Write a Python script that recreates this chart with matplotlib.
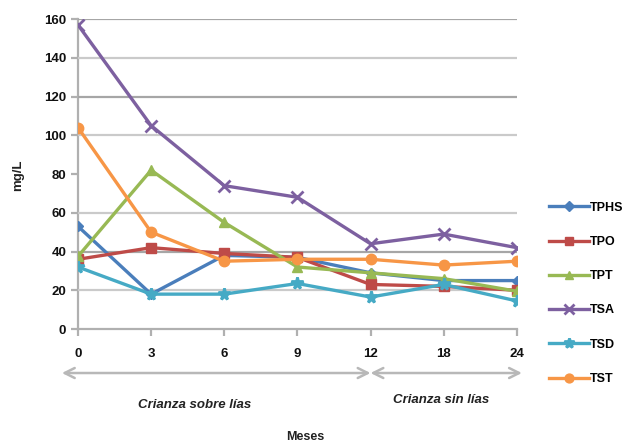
import matplotlib
matplotlib.use('Agg')
from matplotlib import pyplot as plt

months = ['0', '3', '6', '9', '12', '18', '24']

tphs = [53, 18, 38, 37, 29, 25, 25]
tpo = [36, 42, 39, 37, 23, 22, 20]
tpt = [37.5, 82, 55, 32, 29, 26, 19.5]
tsa = [157, 105, 74, 68, 44, 49, 42]
tsd = [32, 18, 18, 23.5, 16.5, 23, 14.5]
tst = [104, 50, 35, 36, 36, 33, 35]

series_names = ['TPHS', 'TPO', 'TPT', 'TSA', 'TSD', 'TST']
y_ticks = [0, 20, 40, 60, 80, 100, 120, 140, 160]
grid_levels = [20, 40, 60, 100, 120, 140, 160]


def main():
  plt.rcParams['font.family'] = ['Liberation Sans', 'DejaVu Sans']
  fig = plt.figure(figsize=(6.31, 4.44), dpi=100)
  ax = fig.add_axes([0.1236, 0.259, 0.6954, 0.698])

  styles = [
      ('#4a7ebb', 'D', 5.5),
      ('#be4b48', 's', 6.5),
      ('#98b954', '^', 6.5),
      ('#7d60a0', 'x', 8),
      ('#46aac5', '*', 8.5),
      ('#f79646', 'o', 7.5),
  ]
  data = [tphs, tpo, tpt, tsa, tsd, tst]
  xs = list(range(len(months)))
  for name, vals, (col, mk, ms) in zip(series_names, data, styles):
    ax.plot(xs, vals, color=col, lw=2.4, marker=mk, ms=ms,
            mew=2.0 if mk in 'x*' else 1, mec=col, mfc=col,
            label=name, zorder=3)

  # horizontal grid
  for lvl in grid_levels:
    c = '#a6a6a6' if lvl in (40, 120, 160) else '#cacaca'
    ax.axhline(lvl, color=c, lw=1.6, zorder=1)

  ax.set_xlim(0, 6)
  ax.set_ylim(0, 160)
  ax.set_xticks(xs)
  ax.set_xticklabels(months)
  ax.set_yticks(y_ticks)
  for s in ['top', 'right']:
    ax.spines[s].set_visible(False)
  for s in ['left', 'bottom']:
    ax.spines[s].set_color('#b0b0b0')
    ax.spines[s].set_linewidth(1.6)
  ax.spines['left'].set_zorder(0)
  ax.tick_params(axis='both', colors='#b0b0b0', width=1.6, length=5,
                 labelcolor='#111111', labelsize=9.5)
  ax.tick_params(axis='x', pad=9)
  for lab in ax.get_xticklabels() + ax.get_yticklabels():
    lab.set_fontweight('bold')

  # periods of ageing under the axis
  arr = dict(arrowstyle='<->', color='#b8b8b8', lw=1.8,
             mutation_scale=18, shrinkA=0, shrinkB=0)
  ax.annotate('', xy=(-0.22, -0.142), xytext=(4.0, -0.142),
              xycoords=('data', 'axes fraction'),
              textcoords=('data', 'axes fraction'), arrowprops=arr,
              annotation_clip=False)
  ax.annotate('', xy=(4.0, -0.142), xytext=(6.07, -0.142),
              xycoords=('data', 'axes fraction'),
              textcoords=('data', 'axes fraction'), arrowprops=arr,
              annotation_clip=False)
  ax.text(1.6, -0.245, 'Crianza sobre lías', transform=ax.get_xaxis_transform(),
          ha='center', va='center', fontsize=9.5, style='italic',
          fontweight='bold', color='#222222')
  ax.text(4.97, -0.229, 'Crianza sin lías', transform=ax.get_xaxis_transform(),
          ha='center', va='center', fontsize=9.5, style='italic',
          fontweight='bold', color='#222222')

  fig.text(0.483, 0.016, 'Meses', ha='center', va='center', fontsize=9,
           fontweight='bold', color='#222222')
  fig.text(0.029, 0.606, 'mg/L', ha='center', va='center', rotation=90,
           fontsize=9.5, fontweight='bold', color='#222222')

  fig.legend(loc='upper left', bbox_to_anchor=(0.862, 0.557),
             frameon=False, handlelength=3.2, handletextpad=0.1,
             labelspacing=1.78, borderaxespad=0, markerscale=0.85,
             prop={'weight': 'bold', 'size': 9})

  fig.savefig('out.png', dpi=100)


if __name__ == '__main__':
  main()
